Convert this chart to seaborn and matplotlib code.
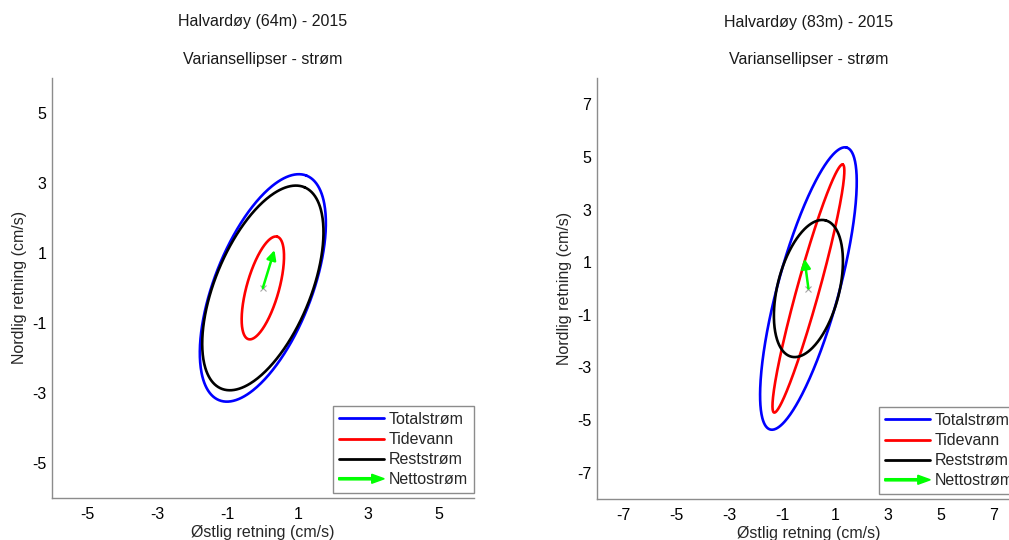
import numpy as np
import matplotlib
matplotlib.use("Agg")
import matplotlib.pyplot as plt
import matplotlib.patches as mpatches
from matplotlib.patches import FancyArrow
from matplotlib.lines import Line2D
from matplotlib.legend_handler import HandlerPatch
import seaborn as sns

# ---- data ----
titles = ["Halvardøy (64m) - 2015", "Halvardøy (83m) - 2015"]
subtitle = "Variansellipser - strøm"
series = ["Totalstrøm", "Tidevann", "Reststrøm"]
net_label = "Nettostrøm"
colors = [(0, 0, 1), (1, 0, 0), (0, 0, 0)]
net_color = (0, 1, 0)

# ellipse parameters: semi-major, semi-minor (cm/s), orientation (deg from east)
left_major = [3.44, 1.52, 3.11]
left_minor = [1.39, 0.46, 1.36]
left_angle = [68.9, 74.4, 67.7]
right_major = [5.55, 4.89, 2.67]
right_minor = [1.16, 0.42, 1.17]
right_angle = [74.9, 74.6, 76.0]

# net current vector (east, north) in cm/s
net_u = [0.33, -0.15]
net_v = [1.08, 1.13]

limits = [6, 8]
left_ticks = [-5, -3, -1, 1, 3, 5]
right_ticks = [-7, -5, -3, -1, 1, 3, 5, 7]
xlabel = "Østlig retning (cm/s)"
ylabel = "Nordlig retning (cm/s)"

FS = 11.5

# ---- style ----
sns.set_theme(style="white")
plt.rcParams["font.family"] = ["Liberation Sans", "DejaVu Sans"]
plt.rcParams["font.size"] = FS
plt.rcParams["axes.unicode_minus"] = False

fig = plt.figure(figsize=(10.09, 5.40), dpi=100)
axes = [fig.add_axes([0.0515, 0.0778, 0.418, 0.778]),
        fig.add_axes([0.5917, 0.0759, 0.419, 0.7796])]

params = [(left_major, left_minor, left_angle, left_ticks),
          (right_major, right_minor, right_angle, right_ticks)]

t = np.linspace(0, 2 * np.pi, 400)


def make_arrow(legend, orig_handle, xdescent, ydescent, width, height, fontsize):
    return FancyArrow(-xdescent, height / 2 - ydescent, width, 0,
                      width=1.6, head_width=6.5, head_length=9,
                      length_includes_head=True, color=net_color)


for i, ax in enumerate(axes):
    major, minor, angle, ticks = params[i]
    for a, b, ang, c, name in zip(major, minor, angle, colors, series):
        th = np.deg2rad(ang)
        x = a * np.cos(t) * np.cos(th) - b * np.sin(t) * np.sin(th)
        y = a * np.cos(t) * np.sin(th) + b * np.sin(t) * np.cos(th)
        sns.lineplot(x=x, y=y, sort=False, estimator=None, color=c,
                     lw=1.9, ax=ax, legend=False)
    ax.annotate("", xy=(net_u[i], net_v[i]), xytext=(0, 0),
                arrowprops=dict(arrowstyle="-|>", color=net_color, lw=1.8,
                                mutation_scale=14, shrinkA=0, shrinkB=0))
    ax.plot([0], [0], marker="x", color="0.65", ms=4, mew=0.8)

    L = limits[i]
    ax.set_xlim(-L, L)
    ax.set_ylim(-L, L)
    ax.set_xticks(ticks)
    ax.set_yticks(ticks)
    ax.tick_params(direction="in", length=4, width=0.8, color="0.5",
                   labelsize=FS, labelcolor="black")
    ax.tick_params(axis="y", pad=4)
    ax.tick_params(axis="x", pad=6.5)
    for s in ["top", "right"]:
        ax.spines[s].set_visible(False)
    for s in ["left", "bottom"]:
        ax.spines[s].set_color("0.55")
        ax.spines[s].set_linewidth(1.0)
    ax.set_xlabel(xlabel, fontsize=FS, labelpad=2)
    ax.set_ylabel(ylabel, fontsize=FS, labelpad=4)
    ax.text(0.5, 1.133, titles[i], transform=ax.transAxes, ha="center",
            va="center", fontsize=FS, color="#1a1a1a")
    ax.text(0.5, 1.043, subtitle, transform=ax.transAxes, ha="center",
            va="center", fontsize=FS, color="#1a1a1a")

    handles = [Line2D([], [], color=c, lw=2) for c in colors]
    arrow_handle = mpatches.Patch(color=net_color)
    leg = ax.legend(handles + [arrow_handle], series + [net_label],
                    loc="lower right", bbox_to_anchor=(1.0, 0.012),
                    borderaxespad=0, fancybox=False, framealpha=1,
                    edgecolor="0.55", fontsize=FS, handlelength=2.85,
                    handletextpad=0.3, labelspacing=0.32, borderpad=0.35,
                    handler_map={arrow_handle: HandlerPatch(patch_func=make_arrow)})
    leg.get_frame().set_linewidth(1.0)

fig.savefig("out.png", dpi=100)
